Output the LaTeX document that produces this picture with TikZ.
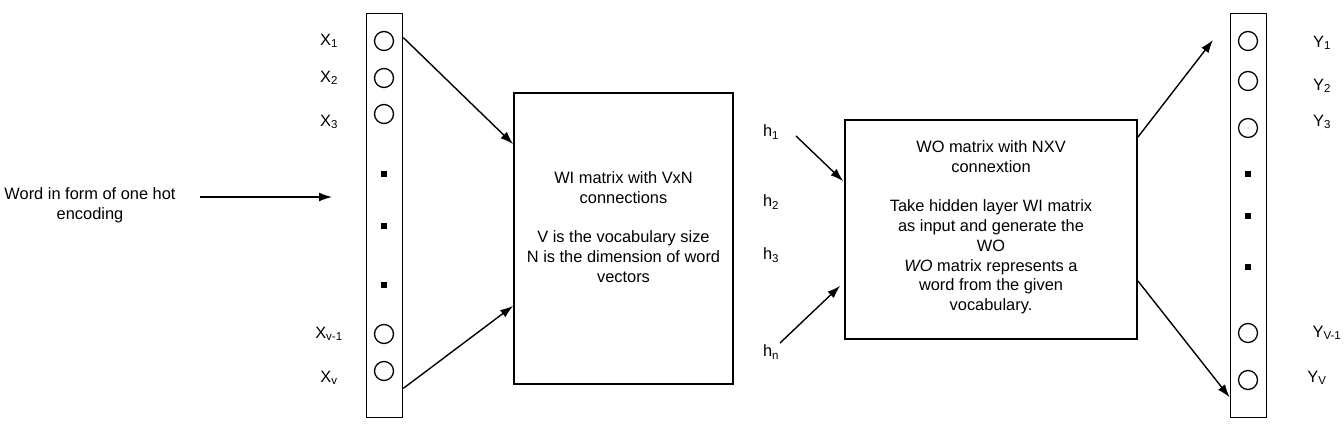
\documentclass[tikz,border=0pt]{standalone}
\usepackage{fontspec}
\setmainfont{Liberation Sans}
\usetikzlibrary{arrows.meta,positioning,calc}

\begin{document}
\begin{tikzpicture}[x=1pt, y=-1pt,
    font=\fontsize{16.4}{19.75}\selectfont,
    col/.style={draw, line width=1.7pt, minimum width=36pt, minimum height=404pt, inner sep=0pt},
    box/.style={draw, line width=1.7pt, inner sep=0pt},
    unit/.style={draw, circle, line width=1.3pt, minimum size=19pt, inner sep=0pt},
    dot/.style={fill, minimum size=5.5pt, inner sep=0pt},
    lbl/.style={font=\fontsize{16.4}{19}\selectfont},
    arr/.style={-{Latex[length=13pt,width=9pt]}, line width=1.4pt}]
  \useasboundingbox (0,0) rectangle (1344,428);

  % input layer
  \node[col] at (384.5,215.5) (incol) {};
  \node[unit] at (384,41)  (x1) {};
  \node[unit] at (384,78)  (x2) {};
  \node[unit] at (384,114) (x3) {};
  \node[dot]  at (384,174) (xd1) {};
  \node[dot]  at (384,226) (xd2) {};
  \node[dot]  at (384,285) (xd3) {};
  \node[unit] at (384,334) (xv1) {};
  \node[unit] at (384,371) (xv) {};

  \node[lbl] at (329,41)  (lx1) {X\textsubscript{1}};
  \node[lbl] at (329,78)  (lx2) {X\textsubscript{2}};
  \node[lbl] at (329,122) (lx3) {X\textsubscript{3}};
  \node[lbl] at (329,334) (lxv1) {X\textsubscript{v-1}};
  \node[lbl] at (329,378) (lxv) {X\textsubscript{v}};

  \node[align=center] at (90,205) (word) {Word in form of one hot\\encoding};
  \coordinate (inA) at (200,197);
  \coordinate (inB) at (332,197);
  \draw[arr] (inA) -- (inB);

  % hidden layer
  \node[box, minimum width=219pt, minimum height=291pt] at (623.5,238.5) (wi) {};
  \node[align=center] at (623.5,227) (witext) {WI matrix with VxN\\connections\\ \\V is the vocabulary size\\N is the dimension of word\\vectors};

  \draw[arr] ($(incol.north east)+(0,25)$) -- ($(wi.north west)+(0,52)$);
  \draw[arr] ($(incol.south east)+(0,-30)$) -- ($(wi.south west)+(0,-79)$);

  \node[lbl] at (771,132) (h1) {h\textsubscript{1}};
  \node[lbl] at (771,202) (h2) {h\textsubscript{2}};
  \node[lbl] at (771,255) (h3) {h\textsubscript{3}};
  \node[lbl] at (771,352) (hn) {h\textsubscript{n}};

  % output layer
  \node[box, minimum width=292pt, minimum height=219pt] at (991,229.5) (wo) {};
  \node[align=center] at (991,227.5) (wotext) {WO matrix with NXV\\connextion\\ \\Take hidden layer WI matrix\\as input and generate the\\WO\\\textit{WO} matrix represents a\\word from the given\\vocabulary.};

  \draw[arr] ($(h1)+(25,4)$) -- ($(wo.north west)+(-1,62)$);
  \draw[arr] ($(hn)+(9,-9)$) -- ($(wo.south west)+(-4,-54)$);

  \node[col] at (1248.5,215.5) (outcol) {};
  \node[unit] at (1248,41)  (y1) {};
  \node[unit] at (1248,81)  (y2) {};
  \node[unit] at (1248,128) (y3) {};
  \node[dot]  at (1248,174) (yd1) {};
  \node[dot]  at (1248,216) (yd2) {};
  \node[dot]  at (1248,267) (yd3) {};
  \node[unit] at (1248,333) (yv1) {};
  \node[unit] at (1248,380) (yv) {};

  \node[lbl] at (1322,43)  (ly1) {Y\textsubscript{1}};
  \node[lbl] at (1322,86)  (ly2) {Y\textsubscript{2}};
  \node[lbl] at (1322,122) (ly3) {Y\textsubscript{3}};
  \node[lbl] at (1327,333) (lyv1) {Y\textsubscript{V-1}};
  \node[lbl] at (1317,378) (lyv) {Y\textsubscript{V}};

  \coordinate (outA) at (1213,40);
  \draw[arr] ($(wo.north east)+(0,18)$) -- (outA);
  \draw[arr] ($(wo.south east)+(0,-59)$) -- ($(outcol.south west)+(0,-21)$);
\end{tikzpicture}
\end{document}
